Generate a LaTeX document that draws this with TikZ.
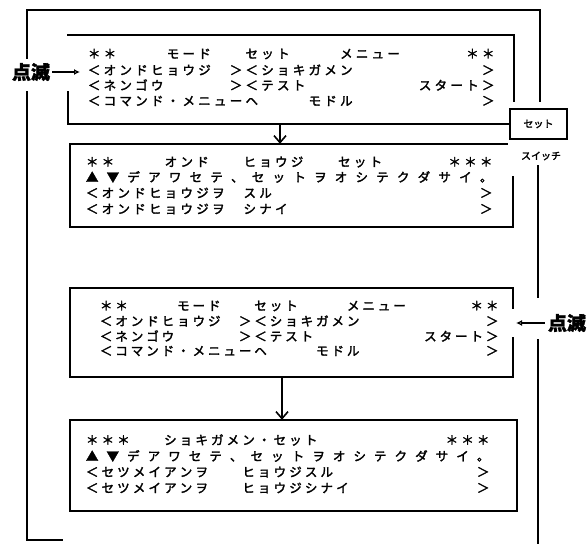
\documentclass[tikz,border=0pt]{standalone}
\usepackage{fontspec}
\newfontfamily\jp[FakeBold=2.2]{Noto Sans CJK JP}
\newfontfamily\jpbig[FakeBold=1.5]{Noto Sans CJK JP}
\usetikzlibrary{arrows.meta,calc}
\makeatletter
\def\blankmark{/}
\newcommand\gridrow[2]{\hbox to #1{\let\rowsep\relax
  \@tfor\rowch:=#2\do{\rowsep\hbox to 1em{\hss\ifx\rowch\blankmark\else\rowch\fi\hss}\let\rowsep\hfill}}}
\makeatother
% name, first column centre x, last column centre x, y, characters
\newcommand\rowat[5]{\node[txtrow] (#1) at (#2-6.25,#4) {\gridrow{\dimexpr #3pt-#2pt+12.5pt\relax}{#5}};}
\begin{document}
\begin{tikzpicture}[x=1pt,y=-1pt,
  frame/.style={line width=1.9pt,line cap=rect},
  flow/.style={line width=1.6pt,-{Straight Barb[length=7pt,width=12pt]}},
  blink/.style={line width=1.9pt,-{Latex[open,length=6pt,width=6pt]}},
  txtrow/.style={anchor=west,inner sep=0pt,font=\jp\fontsize{12.5}{12.5}\selectfont},
  big/.style={inner sep=0pt,font=\jpbig\bfseries\fontsize{19}{19}\selectfont},
  small/.style={inner sep=0pt,font=\jp\fontsize{10}{10}\selectfont},
  area/.style={inner sep=0pt,draw=none}]
\useasboundingbox (0,0) rectangle (587,544);
\fill[white] (0,0) rectangle (587,544);
% box areas
\node[area,minimum width=446pt,minimum height=89pt] (box1) at (291,79.5) {};
\node[area,minimum width=443pt,minimum height=83pt] (box2) at (291.5,185.5) {};
\node[area,minimum width=443pt,minimum height=89pt] (box3) at (291.5,332.5) {};
\node[area,minimum width=447pt,minimum height=91pt] (box4) at (293.5,465.5) {};
% switch
\node[draw,line width=1.9pt,minimum width=57pt,minimum height=30pt,inner sep=0pt,small] (sw) at (538.5,124) {セット};
\node[small] (swlabel) at (541,156) {スイッチ};
% outer frame
\draw[frame] (27,58) -- (27,10) -- (540,10) -- (540,101);
\draw[frame] (27,92) -- (27,540) -- (62,540);
\draw[frame] (538,166) -- (538,297);
\draw[frame] (538,340) -- (538,544);
% box 1 (open)
\draw[frame] (514,101) -- (514,35) -- (68,35);
\draw[frame] (68,92) -- (68,124) -- (sw.west);
% box 2
\draw[frame] (507,144) -- (70,144) -- (70,227) -- (513,227) -- (513,177);
% box 3
\draw[frame] (513,308) -- (513,288) -- (70,288) -- (70,377) -- (513,377) -- (513,338);
% box 4
\draw[frame] (box4.north west) rectangle (box4.south east);
% flow arrows
\coordinate (a1) at (280,124);
\draw[flow] (a1) -- (a1 |- box2.north);
\coordinate (a2) at (282,377);
\draw[flow] (a2) -- (a2 |- box4.north);
% blinking markers
\node[big] (blinkL) at (31,72) {点滅};
\coordinate (blinkLend) at (80,72);
\draw[blink] ([xshift=2pt]blinkL.east) -- (blinkLend);
\node[big] (blinkR) at (567,323) {点滅};
\coordinate (blinkRend) at (516,323);
\draw[blink] ([xshift=-3pt]blinkR.west) -- (blinkRend);
% box 1 text
\rowat{b1a}{94}{488}{54}{＊＊///モード//セット///メニュー////＊＊}
\rowat{b1b}{94}{488}{70}{＜オンドヒョウジ/＞＜ショキガメン////////＞}
\rowat{b1c}{94}{488}{85}{＜ネンゴウ////＞＜テスト///////スタート＞}
\rowat{b1d}{94}{488}{101}{＜コマンド・メニューヘ///モドル////////＞}
% box 2 text
\rowat{b2a}{92}{486}{162}{＊＊///オンド//ヒョウジ//セット////＊＊＊}
\rowat{b2b}{92}{486}{177}{▲▼デアワセテ、セットヲオシテクダサイ。}
\rowat{b2c}{92}{486}{193}{＜オンドヒョウジヲ/スル/////////////＞}
\rowat{b2d}{92}{486}{209}{＜オンドヒョウジヲ/シナイ////////////＞}
% box 3 text
\rowat{b3a}{106}{492}{306}{＊＊///モード//セット///メニュー////＊＊}
\rowat{b3b}{106}{492}{321}{＜オンドヒョウジ/＞＜ショキガメン////////＞}
\rowat{b3c}{106}{492}{336}{＜ネンゴウ////＞＜テスト///////スタート＞}
\rowat{b3d}{106}{492}{351}{＜コマンド・メニューヘ///モドル////////＞}
% box 4 text
\rowat{b4a}{92}{483}{440}{＊＊＊//ショキガメン・セット////////＊＊＊}
\rowat{b4b}{92}{483}{456}{▲▼デアワセテ、セットヲオシテクダサイ。}
\rowat{b4c}{92}{483}{472}{＜セツメイアンヲ//ヒョウジスル/////////＞}
\rowat{b4d}{92}{483}{488}{＜セツメイアンヲ//ヒョウジシナイ////////＞}
\end{tikzpicture}
\end{document}
